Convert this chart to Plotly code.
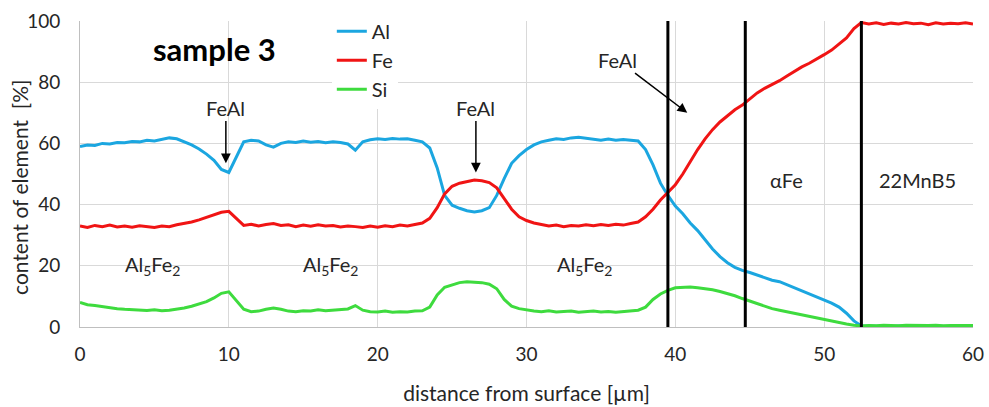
import plotly.graph_objects as go

# distance from surface [µm], 0.5 µm steps
distance = [i * 0.5 for i in range(121)]

al = [59.0, 59.5, 59.3, 60.0, 59.8, 60.3, 60.2, 60.6, 60.5, 61.0,
      60.8, 61.3, 61.8, 61.5, 60.5, 59.5, 58.2, 56.5, 54.5, 51.5,
      50.5, 55.5, 60.5, 61.0, 60.8, 59.5, 58.8, 60.0, 60.5, 60.3,
      60.8, 60.4, 60.6, 60.2, 60.5, 60.3, 59.8, 57.8, 60.5, 61.2,
      61.5, 61.3, 61.6, 61.4, 61.5, 61.0, 60.5, 58.5, 52.0, 43.0,
      39.8, 38.8, 38.0, 37.6, 38.0, 39.0, 43.0, 48.5, 53.5, 56.0,
      58.0, 59.5, 60.5, 61.0, 61.5, 61.3, 61.8, 62.0, 61.6, 61.2,
      61.0, 61.4, 61.0, 61.3, 61.0, 60.8, 58.0, 53.0, 47.0, 43.0,
      39.5, 37.0, 34.0, 31.5, 28.5, 25.5, 23.0, 21.0, 19.5, 18.5,
      17.8, 17.0, 16.0, 15.3, 14.8, 13.8, 13.0, 12.0, 11.0, 10.0,
      8.8, 7.8, 6.5, 4.5, 2.0, 0.3, 0.3, 0.2, 0.3, 0.2,
      0.3, 0.2, 0.3, 0.2, 0.3, 0.2, 0.3, 0.2, 0.3, 0.2,
      0.3]

fe = [33.0, 32.5, 33.2, 32.8, 33.3, 32.7, 33.0, 32.6, 33.1, 32.8,
      32.5, 33.0, 32.8, 33.4, 33.8, 34.3, 35.0, 35.8, 36.5, 37.5,
      37.8, 35.5, 33.2, 33.6, 33.0, 33.5, 33.8, 33.2, 33.4, 32.8,
      33.3, 32.9, 33.4, 33.0, 33.2, 32.7, 33.0, 32.8, 32.5, 33.0,
      32.6, 33.1, 32.8, 33.3, 33.0, 33.5, 34.0, 35.5, 39.0, 43.5,
      46.0, 47.0, 47.5, 48.0, 47.8, 47.2, 45.5, 42.0, 38.5, 36.0,
      34.8, 34.0, 33.5, 33.0, 33.3, 32.8, 33.2, 33.0, 33.4, 33.1,
      33.5, 33.2, 33.6, 33.3, 33.8, 34.3, 36.0, 38.5, 41.5, 44.0,
      46.5, 50.0, 54.0, 58.0, 61.5, 64.5, 67.0, 69.0, 71.0, 72.5,
      74.5, 76.5, 78.0, 79.2, 80.5, 82.0, 83.5, 85.0, 86.2, 87.5,
      89.0, 90.5, 92.5, 94.5, 97.5, 99.5, 99.0, 99.4, 98.9, 99.3,
      99.0, 99.5, 99.1, 99.3, 98.8, 99.4, 99.0, 99.3, 99.1, 99.4,
      99.0]

si = [8.0, 7.3, 7.0, 6.6, 6.3, 6.0, 5.8, 5.6, 5.5, 5.4,
      5.6, 5.3, 5.5, 5.8, 6.2, 6.8, 7.5, 8.3, 9.5, 11.0,
      11.5, 8.5, 5.8, 5.0, 5.2, 5.8, 6.2, 5.8, 5.2, 5.0,
      5.3, 5.2, 5.6, 5.3, 5.5, 5.8, 5.9, 7.0, 5.5, 5.0,
      4.9, 5.2, 4.8, 5.0, 4.9, 5.2, 5.3, 6.5, 10.5, 13.0,
      13.8, 14.5, 14.8, 14.6, 14.5, 14.0, 12.5, 9.0, 6.8, 6.0,
      5.5, 5.2, 5.0, 5.3, 4.9, 5.0, 5.2, 4.8, 5.0, 5.2,
      4.9, 5.1, 4.8, 5.0, 5.2, 5.5, 6.5, 9.0, 10.8, 12.0,
      12.8, 13.0, 13.1, 12.8, 12.6, 12.2, 11.6, 11.0, 10.2, 9.3,
      8.5, 7.5, 6.8, 6.0, 5.5, 5.0, 4.5, 3.8, 3.3, 2.8,
      2.3, 1.8, 1.4, 1.0, 0.6, 0.3, 0.5, 0.4, 0.6, 0.5,
      0.4, 0.6, 0.5, 0.4, 0.5, 0.6, 0.4, 0.5, 0.6, 0.5,
      0.5]

series_names = ["Al", "Fe", "Si"]
series_colors = ["#1BA6E0", "#F01414", "#3EDB3E"]

boundaries = [39.5, 44.7, 52.5]

x_ticks = [0, 10, 20, 30, 40, 50, 60]
y_ticks = [0, 20, 40, 60, 80, 100]

FONT = "Lato, 'Open Sans', sans-serif"
TXT = "#262626"

fig = go.Figure()
for name, vals, col in zip(series_names, [al, fe, si], series_colors):
    fig.add_trace(go.Scatter(x=distance, y=vals, mode="lines", name=name,
                             line=dict(color=col, width=3)))

for b in boundaries:
    fig.add_shape(type="line", x0=b, x1=b, y0=0, y1=100, xref="x", yref="y",
                  line=dict(color="black", width=3))

# phase labels
phase_labels = [
    ("Al<sub>5</sub>Fe<sub>2</sub>", 4.9, 20),
    ("Al<sub>5</sub>Fe<sub>2</sub>", 16.8, 20),
    ("Al<sub>5</sub>Fe<sub>2</sub>", 33.9, 20),
    ("αFe", 47.5, 48),
    ("22MnB5", 56.3, 48),
]
for t, xx, yy in phase_labels:
    fig.add_annotation(x=xx, y=yy, text=t, showarrow=False,
                       font=dict(family=FONT, size=20, color=TXT))

# FeAl arrows: (text x, text y, head x, head y)
arrows = [(9.8, 71.7, 9.8, 53.5), (26.6, 71.7, 26.6, 50.5), (36.1, 87.4, 40.8, 70.0)]
for tx, ty, hx, hy in arrows:
    fig.add_annotation(x=hx, y=hy, ax=tx, ay=ty, xref="x", yref="y", axref="x", ayref="y",
                       text="FeAl", showarrow=True, arrowhead=2, arrowsize=1.3,
                       arrowwidth=1.5, arrowcolor="black", standoff=0,
                       font=dict(family=FONT, size=20, color=TXT))

fig.add_annotation(x=4.8, y=91.0, text="<b>sample 3</b>", showarrow=False,
                   xanchor="left", font=dict(family=FONT, size=31, color="black"))

# y-axis title
fig.add_annotation(xref="paper", yref="paper", x=-0.067, y=0.455, xanchor="center",
                   yanchor="middle", textangle=-90, showarrow=False,
                   text="content of element  [%]",
                   font=dict(family=FONT, size=21, color=TXT))

fig.update_layout(
    width=989, height=407,
    margin=dict(l=80, r=16, t=21, b=80),
    paper_bgcolor="white", plot_bgcolor="white",
    font=dict(family=FONT, size=19, color=TXT),
    showlegend=True,
    legend=dict(x=0.282, y=1.03, xanchor="left", yanchor="top",
                bgcolor="white", font=dict(family=FONT, size=20, color=TXT),
                tracegroupgap=0),
    xaxis=dict(range=[0, 60], tickvals=x_ticks, showgrid=True, gridcolor="#D9D9D9",
               showline=True, linecolor="#BFBFBF", zeroline=False, automargin=False,
               ticks="", ticklabelstandoff=10,
               title=dict(text="distance from surface [µm]", standoff=22,
                          font=dict(family=FONT, size=21, color=TXT))),
    yaxis=dict(range=[0, 100], tickvals=y_ticks, showgrid=True, gridcolor="#D9D9D9",
               showline=True, linecolor="#BFBFBF", zeroline=False, automargin=False,
               ticks="", ticklabelstandoff=15),
)

fig.write_html("out.html")
